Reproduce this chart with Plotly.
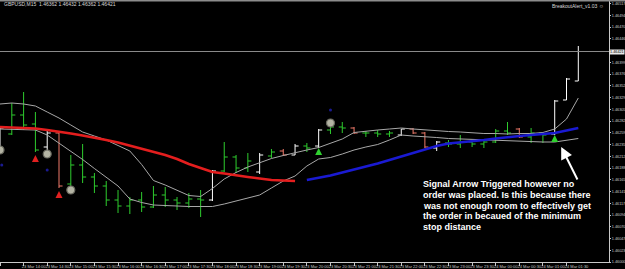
import plotly.graph_objects as go

# ---------------- data ----------------
bar_idx = list(range(50))
bar_kind = ["w", "g", "g", "g", "w", "r", "g", "g", "g", "g",
            "g", "g", "g", "g", "g", "g", "g", "g", "w", "g",
            "g", "g", "w", "g", "r", "w", "g", "w", "g", "g",
            "r", "g", "g", "g", "w", "r", "r", "w", "g", "g",
            "g", "g", "g", "g", "r", "g", "g", "w", "w", "w"]
opens = [1.46232, 1.46256, 1.46294, 1.46276, 1.46230, 1.46258, 1.46156, 1.46194, 1.46170, 1.46152,
         1.46124, 1.46112, 1.46124, 1.46110, 1.46134, 1.46124, 1.46118, 1.46126, 1.46124, 1.46182,
         1.46210, 1.46188, 1.46180, 1.46212, 1.46222, 1.46214, 1.46232, 1.46232, 1.46264, 1.46270,
         1.46268, 1.46258, 1.46258, 1.46256, 1.46254, 1.46266, 1.46258, 1.46228, 1.46238, 1.46236,
         1.46240, 1.46236, 1.46240, 1.46262, 1.46266, 1.46250, 1.46258, 1.46256, 1.46324, 1.46362]
highs = [1.46272, 1.46318, 1.46340, 1.46300, 1.46262, 1.46262, 1.46214, 1.46236, 1.46178, 1.46162,
         1.46144, 1.46130, 1.46140, 1.46152, 1.46150, 1.46130, 1.46138, 1.46144, 1.46184, 1.46240,
         1.46214, 1.46218, 1.46218, 1.46226, 1.46226, 1.46236, 1.46238, 1.46266, 1.46272, 1.46280,
         1.46270, 1.46262, 1.46264, 1.46262, 1.46266, 1.46268, 1.46260, 1.46242, 1.46244, 1.46254,
         1.46242, 1.46244, 1.46266, 1.46280, 1.46268, 1.46268, 1.46260, 1.46324, 1.46368, 1.46432]
lows = [1.46232, 1.46254, 1.46264, 1.46220, 1.46220, 1.46148, 1.46152, 1.46158, 1.46138, 1.46112,
        1.46098, 1.46096, 1.46100, 1.46108, 1.46110, 1.46104, 1.46108, 1.46090, 1.46122, 1.46180,
        1.46178, 1.46180, 1.46176, 1.46208, 1.46212, 1.46214, 1.46220, 1.46228, 1.46256, 1.46258,
        1.46256, 1.46250, 1.46250, 1.46250, 1.46252, 1.46256, 1.46228, 1.46222, 1.46230, 1.46228,
        1.46230, 1.46228, 1.46238, 1.46254, 1.46248, 1.46238, 1.46238, 1.46254, 1.46324, 1.46362]
closes = [1.46268, 1.46294, 1.46274, 1.46224, 1.46258, 1.46152, 1.46194, 1.46170, 1.46152, 1.46124,
          1.46112, 1.46124, 1.46110, 1.46134, 1.46124, 1.46118, 1.46126, 1.46124, 1.46182, 1.46210,
          1.46188, 1.46202, 1.46214, 1.46220, 1.46214, 1.46232, 1.46228, 1.46264, 1.46270, 1.46268,
          1.46258, 1.46258, 1.46256, 1.46258, 1.46266, 1.46258, 1.46230, 1.46240, 1.46236, 1.46240,
          1.46236, 1.46240, 1.46262, 1.46258, 1.46250, 1.46258, 1.46254, 1.46322, 1.46366, 1.46421]

red_ma_idx = list(range(0, 26))
red_ma = [1.46270, 1.46269, 1.46268, 1.46267, 1.46264, 1.46261, 1.46257, 1.46253, 1.46249, 1.46244,
          1.46239, 1.46233, 1.46227, 1.46221, 1.46214, 1.46206, 1.46196, 1.46188, 1.46180, 1.46177,
          1.46173, 1.46170, 1.46167, 1.46164, 1.46163, 1.46162]
blue_ma_idx = list(range(26, 50))
blue_ma = [1.46164, 1.46168, 1.46173, 1.46179, 1.46185, 1.46190, 1.46197, 1.46204, 1.46211, 1.46219,
           1.46226, 1.46232, 1.46237, 1.46239, 1.46242, 1.46244, 1.46247, 1.46250, 1.46252, 1.46254,
           1.46256, 1.46258, 1.46263, 1.46268]
grey_fast = [1.46316, 1.46318, 1.46316, 1.46312, 1.46300, 1.46288, 1.46274, 1.46260, 1.46252, 1.46244,
             1.46233, 1.46222, 1.46195, 1.46163, 1.46154, 1.46144, 1.46133, 1.46131, 1.46147, 1.46166,
             1.46179, 1.46190, 1.46198, 1.46207, 1.46213, 1.46219, 1.46224, 1.46229, 1.46237, 1.46246,
             1.46259, 1.46262, 1.46264, 1.46266, 1.46268, 1.46266, 1.46264, 1.46262, 1.46261, 1.46260,
             1.46258, 1.46257, 1.46257, 1.46256, 1.46257, 1.46257, 1.46259, 1.46266, 1.46286, 1.46328]
grey_slow = [1.46266, 1.46265, 1.46265, 1.46264, 1.46254, 1.46238, 1.46221, 1.46205, 1.46187, 1.46170,
             1.46152, 1.46126, 1.46119, 1.46114, 1.46113, 1.46111, 1.46111, 1.46111, 1.46111, 1.46116,
             1.46122, 1.46128, 1.46134, 1.46148, 1.46162, 1.46172, 1.46192, 1.46206, 1.46209, 1.46216,
             1.46224, 1.46230, 1.46235, 1.46244, 1.46254, 1.46252, 1.46251, 1.46249, 1.46247, 1.46246,
             1.46245, 1.46244, 1.46243, 1.46243, 1.46242, 1.46241, 1.46240, 1.46240, 1.46243, 1.46247]

stop_idx = [0, 4, 6, 28]
stop_price = [1.46224, 1.46216, 1.46144, 1.46278]
red_arrow_idx = [3, 5]
red_arrow_price = [1.46214, 1.46142]
green_arrow_idx = [27, 47]
green_arrow_price = [1.46228, 1.46254]
dot_idx = [0.15, 4, 28]
dot_price = [1.46194, 1.46184, 1.46304]

current_price = 1.46421
header = "GBPUSD,M15  1.46362 1.46432 1.46362 1.46421"
ea_label = "BreakoutAlert_v1.03 \u263a"

time_tick_idx = list(range(0, 50, 2))
time_labels = ["23 Mar 2009", "23 Mar 14:00", "23 Mar 14:30", "23 Mar 15:00", "23 Mar 15:30",
               "23 Mar 16:00", "23 Mar 16:30", "23 Mar 17:00", "23 Mar 17:30", "23 Mar 18:00",
               "23 Mar 18:30", "23 Mar 19:00", "23 Mar 19:30", "23 Mar 20:00", "23 Mar 20:30",
               "23 Mar 21:00", "23 Mar 21:30", "23 Mar 22:00", "23 Mar 22:30", "23 Mar 23:00",
               "23 Mar 23:30", "24 Mar 00:00", "24 Mar 00:30", "24 Mar 01:00", "24 Mar 01:30"]

note_lines = ["Signal Arrow Triggered however no",
              "order was placed. Is this because there",
              "was not enough room to effectively get",
              "the order in becaued of the minimum",
              "stop distance"]
arrow_tip_idx = 47.55
arrow_tip_price = 1.46230

# ---------------- figure ----------------
colors = {"g": "#2ecc2e", "w": "#ffffff", "r": "#f07a6a"}
fig = go.Figure()

for kind, col in colors.items():
    sel = [i for i, k in enumerate(bar_kind) if k == kind]
    fig.add_trace(go.Ohlc(
        x=[bar_idx[i] for i in sel],
        open=[opens[i] for i in sel], high=[highs[i] for i in sel],
        low=[lows[i] for i in sel], close=[closes[i] for i in sel],
        increasing=dict(line=dict(color=col, width=1)),
        decreasing=dict(line=dict(color=col, width=1)),
        tickwidth=0.3, hoverinfo="skip"))

fig.add_trace(go.Scatter(x=bar_idx, y=grey_fast, mode="lines",
                         line=dict(color="#a8a8a8", width=1), hoverinfo="skip"))
fig.add_trace(go.Scatter(x=bar_idx, y=grey_slow, mode="lines",
                         line=dict(color="#a8a8a8", width=1), hoverinfo="skip"))
fig.add_trace(go.Scatter(x=red_ma_idx, y=red_ma, mode="lines",
                         line=dict(color="#e41e1e", width=2.6), hoverinfo="skip"))
fig.add_trace(go.Scatter(x=blue_ma_idx, y=blue_ma, mode="lines",
                         line=dict(color="#1a1ad2", width=2.6), hoverinfo="skip"))

fig.add_trace(go.Scatter(x=stop_idx, y=stop_price, mode="markers",
                         marker=dict(symbol="circle", size=8, color="#b4b4a4",
                                     line=dict(color="#6a6a60", width=1.2)), hoverinfo="skip"))
fig.add_trace(go.Scatter(x=red_arrow_idx, y=red_arrow_price, mode="markers",
                         marker=dict(symbol="arrow-up", size=7, color="#e02020"), hoverinfo="skip"))
fig.add_trace(go.Scatter(x=green_arrow_idx, y=green_arrow_price, mode="markers",
                         marker=dict(symbol="arrow-up", size=7, color="#30d030"), hoverinfo="skip"))
fig.add_trace(go.Scatter(x=dot_idx, y=dot_price, mode="markers",
                         marker=dict(symbol="circle", size=3, color="#1a1a90"), hoverinfo="skip"))

# current price line
fig.add_shape(type="line", xref="paper", x0=0, x1=1, yref="y", y0=current_price, y1=current_price,
              line=dict(color="#8a8a8a", width=1))
# top border
fig.add_shape(type="line", xref="paper", x0=0, x1=1.03, yref="paper", y0=1.0, y1=1.0,
              line=dict(color="#8c8c8c", width=3))

ann = []
ann.append(dict(xref="paper", yref="paper", x=0.004, y=0.985, xanchor="left", yanchor="middle",
                text=header, showarrow=False, font=dict(size=5, color="#d8d8d8", family="Liberation Sans")))
ann.append(dict(xref="paper", yref="paper", x=0.995, y=0.978, xanchor="right", yanchor="middle",
                text=ea_label, showarrow=False, font=dict(size=5, color="#d8d8d8", family="Liberation Sans")))
ann.append(dict(xref="paper", yref="y", x=1.0, y=current_price, xanchor="left", yanchor="middle",
                text="%.5f" % current_price, showarrow=False, bgcolor="#e8e8e8", borderpad=0,
                font=dict(size=3.8, color="#000000", family="Liberation Sans")))
for k, line in enumerate(note_lines):
    ann.append(dict(xref="paper", yref="paper", x=421 / 609, y=1 - (184 + 10.8 * k) / 262,
                    xanchor="left", yanchor="middle", text="<b>%s</b>" % line, showarrow=False,
                    font=dict(size=9, color="#ffffff", family="Liberation Sans")))
ann.append(dict(xref="x", yref="y", x=arrow_tip_idx, y=arrow_tip_price, text="", showarrow=True,
                ax=17, ay=34, arrowhead=2, arrowsize=1.2, arrowwidth=2, arrowcolor="#ffffff"))

# y ticks, skipping the one hidden under the current-price label
ytick_vals = [round(1.46000 + 0.000235 * k, 6) for k in range(23)]
ytick_vals = [v for v in ytick_vals if abs(v - current_price) > 0.00012]

fig.update_layout(
    width=625, height=269, margin=dict(l=0, r=16, t=0, b=7, autoexpand=False),
    paper_bgcolor="#000000", plot_bgcolor="#000000", showlegend=False,
    annotations=ann,
    xaxis=dict(range=[0, 51.6], showgrid=False, zeroline=False, rangeslider=dict(visible=False),
               automargin=False, tickangle=0,
               tickmode="array", tickvals=[i + 0.85 for i in time_tick_idx], ticktext=time_labels,
               tickfont=dict(size=4, color="#c8c8c8", family="Liberation Sans"),
               ticks="", showline=True, linecolor="#c8c8c8", linewidth=1,
               minor=dict(tickmode="array", tickvals=time_tick_idx, ticks="outside", ticklen=3,
                          tickcolor="#c8c8c8", showgrid=False)),
    yaxis=dict(range=[1.46000, 1.46524], side="right", showgrid=False, zeroline=False,
               automargin=False, tickmode="array", tickvals=ytick_vals,
               ticktext=["%.5f" % v for v in ytick_vals],
               tickfont=dict(size=3.8, color="#c8c8c8", family="Liberation Sans"),
               ticks="outside", ticklen=1, tickcolor="#c8c8c8",
               showline=True, linecolor="#c8c8c8", linewidth=1),
)

fig.write_html("out.html", config={"displayModeBar": False})
